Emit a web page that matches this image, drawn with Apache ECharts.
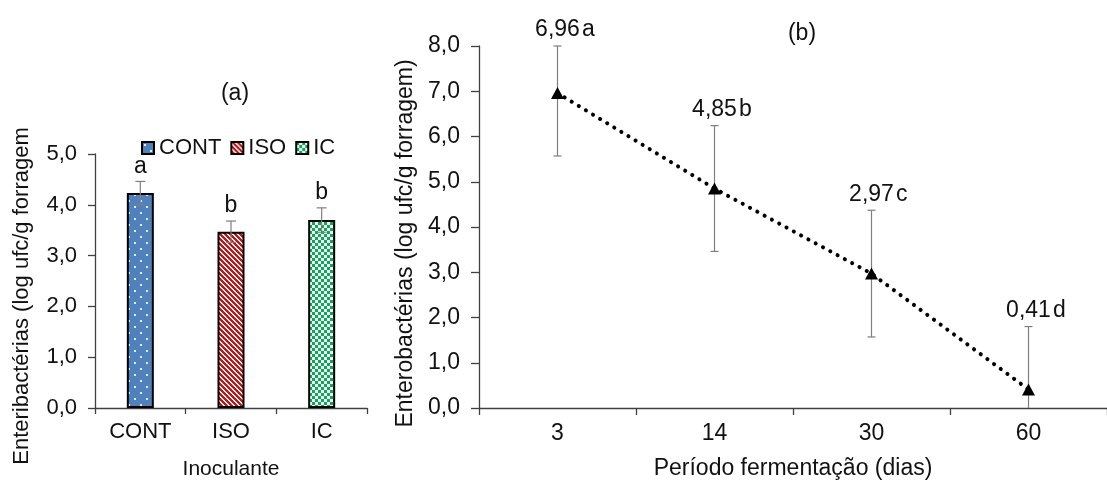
<!DOCTYPE html>
<html>
<head>
<meta charset="utf-8">
<script src="https://cdn.jsdelivr.net/npm/echarts@6/dist/echarts.min.js"></script>
<style>
  html, body { margin: 0; padding: 0; background: #fff; }
  #chart { width: 1107px; height: 485px; }
</style>
</head>
<body>
<div id="chart"></div>
<script>
// Panel (a): enterobacteria count by inoculant
const inoculants = ['CONT', 'ISO', 'IC'];
const inoculantMeans = [4.23, 3.47, 3.70];
const inoculantErrors = [0.23, 0.21, 0.24];
const inoculantLetters = ['a', 'b', 'b'];

// Panel (b): enterobacteria count by fermentation period (days)
const periods = ['3', '14', '30', '60'];
const periodMeans = [6.96, 4.85, 2.97, 0.41];
const periodErrors = [1.39, 1.39, 1.40, 1.39];
const periodLetters = ['a', 'b', 'c', 'd'];

const FONT = '"Liberation Sans", Arial, sans-serif';
const AXIS_COLOR = '#404040';
const TEXT_COLOR = '#111111';
const ERR_COLOR = '#7f7f7f';

const comma = (v, d) => v.toFixed(d).replace('.', ',');

// Fill patterns for the three inoculant bars
function makeTile(size, draw) {
  const c = document.createElement('canvas');
  c.width = c.height = size;
  draw(c.getContext('2d'), size);
  return c;
}
const dotTile = makeTile(12, (ctx, s) => {
  ctx.fillStyle = '#4f81bd';
  ctx.fillRect(0, 0, s, s);
  ctx.fillStyle = 'rgba(255,255,255,0.85)';
  ctx.fillRect(2, 2, 2, 2);
  ctx.fillRect(8, 8, 2, 2);
});
const stripeTile = makeTile(5, (ctx, s) => {
  for (let y = 0; y < s; y++) {
    for (let x = 0; x < s; x++) {
      ctx.fillStyle = ((x - y + s) % s) < 3 ? '#d01010' : '#ffffff';
      ctx.fillRect(x, y, 1, 1);
    }
  }
});
const checkTile = makeTile(6, (ctx, s) => {
  ctx.fillStyle = '#ffffff';
  ctx.fillRect(0, 0, s, s);
  ctx.fillStyle = '#00b050';
  ctx.fillRect(0, 0, 3, 3);
  ctx.fillRect(3, 3, 3, 3);
});
const barFills = [dotTile, stripeTile, checkTile].map(t => ({ image: t, repeat: 'repeat' }));

// Text width helper for placing significance letters after the value labels
const measureCtx = document.createElement('canvas').getContext('2d');
function textWidth(text, size) {
  measureCtx.font = size + 'px ' + FONT;
  return measureCtx.measureText(text).width;
}

// Error bar renderer; bars are clipped to the axis range
function errorBars(means, errors, yMin, yMax, capHalf, drawLabel) {
  return function (params, api) {
    const i = params.dataIndex;
    const v = means[i];
    const e = errors[i];
    const hi = Math.min(v + e, yMax);
    const lo = Math.max(v - e, yMin);
    const pHi = api.coord([i, hi]);
    const pLo = api.coord([i, lo]);
    const line = { stroke: ERR_COLOR, lineWidth: 1.2 };
    const children = [
      { type: 'line', shape: { x1: pHi[0], y1: pHi[1], x2: pLo[0], y2: pLo[1] }, style: line },
      { type: 'line', shape: { x1: pHi[0] - capHalf, y1: pHi[1], x2: pHi[0] + capHalf, y2: pHi[1] }, style: line }
    ];
    if (lo > yMin) {
      children.push({ type: 'line', shape: { x1: pLo[0] - capHalf, y1: pLo[1], x2: pLo[0] + capHalf, y2: pLo[1] }, style: line });
    }
    drawLabel(children, i, pHi, v);
    return { type: 'group', children };
  };
}

const leftLabels = (children, i, pHi) => {
  children.push({
    type: 'text', x: pHi[0], y: pHi[1] - 15,
    style: { text: inoculantLetters[i], fontSize: 23, fontFamily: FONT, fill: TEXT_COLOR, align: 'center', verticalAlign: 'middle' }
  });
};
const rightLabels = (children, i, pHi, v) => {
  const num = comma(v, 2);
  const w = textWidth(num, 23);
  const y = pHi[1] - 16;
  children.push({
    type: 'text', x: pHi[0], y,
    style: { text: num, fontSize: 23, fontFamily: FONT, fill: TEXT_COLOR, align: 'center', verticalAlign: 'middle' }
  });
  children.push({
    type: 'text', x: pHi[0] + w / 2 + 2, y,
    style: { text: periodLetters[i], fontSize: 23, fontFamily: FONT, fill: TEXT_COLOR, align: 'left', verticalAlign: 'middle' }
  });
};

const axisLine = { show: true, lineStyle: { color: AXIS_COLOR, width: 1.3 } };
const axisTick = (len) => ({ show: true, length: len, lineStyle: { color: AXIS_COLOR, width: 1.3 } });

const barSeries = inoculants.map((name, i) => ({
  name,
  type: 'bar',
  xAxisIndex: 0,
  yAxisIndex: 0,
  barWidth: 27,
  barGap: '-100%',
  data: inoculants.map((_, j) => (j === i ? inoculantMeans[i] : null)),
  itemStyle: { color: barFills[i], borderColor: '#000', borderWidth: 2 },
  emphasis: { disabled: true },
  animation: false
}));

const option = {
  animation: false,
  backgroundColor: '#fff',
  textStyle: { fontFamily: FONT },
  title: [
    { text: '(a)', left: 230, top: 77, textAlign: 'center',
      textStyle: { fontSize: 23, fontWeight: 'normal', color: TEXT_COLOR, fontFamily: FONT } },
    { text: '(b)', left: 797, top: 17, textAlign: 'center',
      textStyle: { fontSize: 23, fontWeight: 'normal', color: TEXT_COLOR, fontFamily: FONT } }
  ],
  legend: {
    data: inoculants,
    left: 136,
    top: 132,
    icon: 'rect',
    itemWidth: 12,
    itemHeight: 12,
    itemGap: 9,
    selectedMode: false,
    textStyle: { fontSize: 22, color: TEXT_COLOR, fontFamily: FONT }
  },
  grid: [
    { left: 95, top: 154, width: 272, height: 259 },
    { left: 479, top: 46, width: 637, height: 363 }
  ],
  xAxis: [
    {
      type: 'category', gridIndex: 0, data: inoculants,
      axisLine, axisTick: axisTick(6),
      axisLabel: { fontSize: 22, color: TEXT_COLOR, margin: 13, fontFamily: FONT },
      name: 'Inoculante', nameLocation: 'middle', nameGap: 51,
      nameTextStyle: { fontSize: 21, color: TEXT_COLOR, fontFamily: FONT }
    },
    {
      type: 'category', gridIndex: 1, data: periods,
      axisLine, axisTick: axisTick(7),
      axisLabel: { fontSize: 23, color: TEXT_COLOR, margin: 14, fontFamily: FONT },
      name: 'Período fermentação (dias)', nameLocation: 'middle', nameGap: 49,
      nameTextStyle: { fontSize: 23, color: TEXT_COLOR, fontFamily: FONT }
    }
  ],
  yAxis: [
    {
      type: 'value', gridIndex: 0, min: 0, max: 5, interval: 1,
      axisLine, axisTick: axisTick(7), splitLine: { show: false },
      axisLabel: { fontSize: 22, color: TEXT_COLOR, margin: 18, fontFamily: FONT, formatter: v => comma(v, 1) },
      name: 'Enteribactérias (log ufc/g forragem', nameLocation: 'middle', nameGap: 62,
      nameTextStyle: { fontSize: 22, color: TEXT_COLOR, fontFamily: FONT, padding: [0, 30, 0, 0] }
    },
    {
      type: 'value', gridIndex: 1, min: 0, max: 8, interval: 1,
      axisLine, axisTick: axisTick(8), splitLine: { show: false },
      axisLabel: { fontSize: 23, color: TEXT_COLOR, margin: 19, fontFamily: FONT, formatter: v => comma(v, 1) },
      name: 'Enterobactérias (log ufc/g forragem)', nameLocation: 'middle', nameGap: 61,
      nameTextStyle: { fontSize: 23, color: TEXT_COLOR, fontFamily: FONT, padding: [0, 33, 0, 0] }
    }
  ],
  series: [
    ...barSeries,
    {
      type: 'custom', xAxisIndex: 0, yAxisIndex: 0, z: 10,
      data: inoculantMeans.map((v, i) => [i, v]),
      renderItem: errorBars(inoculantMeans, inoculantErrors, 0, 5, 5, leftLabels),
      silent: true
    },
    {
      type: 'custom', xAxisIndex: 1, yAxisIndex: 1, z: 3,
      data: periodMeans.map((v, i) => [i, v]),
      renderItem: errorBars(periodMeans, periodErrors, 0, 8, 4, rightLabels),
      silent: true
    },
    {
      type: 'line', xAxisIndex: 1, yAxisIndex: 1, z: 5,
      data: periodMeans,
      symbol: 'triangle', symbolSize: [13, 12],
      itemStyle: { color: '#000' },
      lineStyle: { color: '#000', width: 4, type: [0.1, 8.2], cap: 'round' },
      emphasis: { disabled: true },
      silent: true
    }
  ]
};

const chart = echarts.init(document.getElementById('chart'), null, { renderer: 'canvas' });
chart.setOption(option);
</script>
</body>
</html>
